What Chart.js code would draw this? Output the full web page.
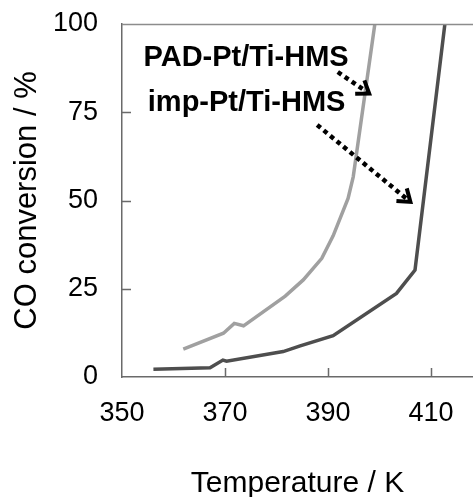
<!DOCTYPE html>
<html>
<head>
<meta charset="utf-8">
<script src="https://cdn.jsdelivr.net/npm/chart.js@4/dist/chart.umd.min.js"></script>
<style>
  html, body { margin: 0; padding: 0; background: #fff; }
  #wrap { width: 473px; height: 497px; }
</style>
</head>
<body>
<div id="wrap"><canvas id="c" width="473" height="497"></canvas></div>
<script>
// CO oxidation light-off curves: temperature (K) vs CO conversion (%)
const padTemp = [361.9, 369.7, 371.8, 373.6, 381.7, 385.2, 388.8, 391.0, 393.9, 394.9, 399.1];
const padConv = [7.9, 12.4, 15.2, 14.5, 22.9, 27.5, 33.6, 40.0, 50.6, 56.7, 100];

const impTemp = [356.1, 367.1, 369.6, 370.3, 381.3, 384.6, 391.0, 403.3, 406.9, 412.7];
const impConv = [2.2, 2.6, 4.8, 4.5, 7.2, 8.8, 11.7, 23.7, 30.3, 100];

const xTickValues = [350, 370, 390, 410];
const yTickValues = [0, 25, 50, 75, 100];

const seriesNames = ['PAD-Pt/Ti-HMS', 'imp-Pt/Ti-HMS'];

const FONT = '"Liberation Sans", Arial, Helvetica, sans-serif';
const AXIS_COLOR = '#6a6a6a';

const toPoints = (xs, ys) => xs.map((x, i) => ({ x: x, y: ys[i] }));

// Inward tick marks, the top frame line and the labelled dotted arrows
const decorations = {
  id: 'decorations',
  afterDraw(chart) {
    const { ctx, chartArea: a, scales: { x, y } } = chart;
    ctx.save();

    // tick marks pointing into the plot
    ctx.strokeStyle = AXIS_COLOR;
    ctx.lineWidth = 1.5;
    ctx.beginPath();
    xTickValues.forEach(v => {
      const px = Math.round(x.getPixelForValue(v)) + 0.5;
      if (px <= a.left + 1) return;
      ctx.moveTo(px, a.bottom);
      ctx.lineTo(px, a.bottom - 9);
    });
    yTickValues.forEach(v => {
      const py = Math.round(y.getPixelForValue(v)) + 0.5;
      if (py >= a.bottom - 1 || py <= a.top + 1) return;
      ctx.moveTo(a.left, py);
      ctx.lineTo(a.left + 9, py);
    });
    ctx.stroke();

    // top frame line
    ctx.strokeStyle = '#8c8c8c';
    ctx.lineWidth = 1.5;
    ctx.beginPath();
    ctx.moveTo(a.left, a.top + 0.5);
    ctx.lineTo(a.right, a.top + 0.5);
    ctx.stroke();

    // series labels
    ctx.fillStyle = '#000';
    ctx.font = 'bold 29px ' + FONT;
    ctx.textAlign = 'center';
    ctx.textBaseline = 'middle';
    ctx.fillText(seriesNames[0], x.getPixelForValue(374.1), y.getPixelForValue(90.4));
    ctx.fillText(seriesNames[1], x.getPixelForValue(374.2), y.getPixelForValue(77.6));

    // dotted arrows from each label to its curve
    const arrow = (t1, c1, t2, c2) => {
      const x1 = x.getPixelForValue(t1), y1 = y.getPixelForValue(c1);
      const x2 = x.getPixelForValue(t2), y2 = y.getPixelForValue(c2);
      const ang = Math.atan2(y2 - y1, x2 - x1);
      ctx.strokeStyle = '#000';
      ctx.lineWidth = 4.5;
      ctx.lineCap = 'butt';
      ctx.setLineDash([4.5, 4]);
      ctx.beginPath();
      ctx.moveTo(x1, y1);
      ctx.lineTo(x2 - 3 * Math.cos(ang), y2 - 3 * Math.sin(ang));
      ctx.stroke();
      ctx.setLineDash([]);
      ctx.lineWidth = 4;
      ctx.lineJoin = 'miter';
      const len = 14, spread = 0.62;
      ctx.beginPath();
      ctx.moveTo(x2 - len * Math.cos(ang - spread), y2 - len * Math.sin(ang - spread));
      ctx.lineTo(x2, y2);
      ctx.lineTo(x2 - len * Math.cos(ang + spread), y2 - len * Math.sin(ang + spread));
      ctx.stroke();
    };
    arrow(391.9, 86.4, 398.0, 80.3);
    arrow(387.9, 71.4, 406.0, 49.6);

    ctx.restore();
  }
};

new Chart(document.getElementById('c'), {
  type: 'line',
  data: {
    datasets: [
      {
        label: seriesNames[0],
        data: toPoints(padTemp, padConv),
        borderColor: '#a0a0a0',
        borderWidth: 3.5,
        pointRadius: 0,
        tension: 0,
        fill: false
      },
      {
        label: seriesNames[1],
        data: toPoints(impTemp, impConv),
        borderColor: '#4e4e4e',
        borderWidth: 3.5,
        pointRadius: 0,
        tension: 0,
        fill: false
      }
    ]
  },
  options: {
    responsive: false,
    animation: false,
    devicePixelRatio: 1,
    layout: { padding: { top: 24, right: 0, bottom: 0, left: 0 } },
    plugins: {
      legend: { display: false },
      tooltip: { enabled: false }
    },
    scales: {
      x: {
        type: 'linear',
        min: 350,
        max: 418.16,
        afterBuildTicks: s => { s.ticks = xTickValues.map(v => ({ value: v })); },
        afterFit: s => { s.height = 120; s.paddingLeft = 0; s.paddingRight = 0; },
        grid: { drawOnChartArea: false, drawTicks: false },
        border: { display: true, color: AXIS_COLOR, width: 1.5 },
        ticks: {
          autoSkip: false,
          maxRotation: 0,
          padding: 20,
          color: '#000',
          font: { family: FONT, size: 27 }
        },
        title: {
          display: true,
          text: 'Temperature / K',
          color: '#000',
          font: { family: FONT, size: 30, lineHeight: 1 },
          padding: { top: 0, bottom: -2 }
        }
      },
      y: {
        type: 'linear',
        min: 0,
        max: 100,
        afterBuildTicks: s => { s.ticks = yTickValues.map(v => ({ value: v })); },
        afterFit: s => { s.width = 122; s.paddingTop = 0; s.paddingBottom = 0; },
        grid: { drawOnChartArea: false, drawTicks: false },
        border: { display: true, color: AXIS_COLOR, width: 1.5 },
        ticks: {
          padding: 24,
          color: '#000',
          font: { family: FONT, size: 27 }
        },
        title: {
          display: true,
          text: 'CO conversion / %',
          color: '#000',
          font: { family: FONT, size: 31, lineHeight: 1 },
          padding: { top: 11.5, bottom: 0 }
        }
      }
    }
  },
  plugins: [decorations]
});
</script>
</body>
</html>
